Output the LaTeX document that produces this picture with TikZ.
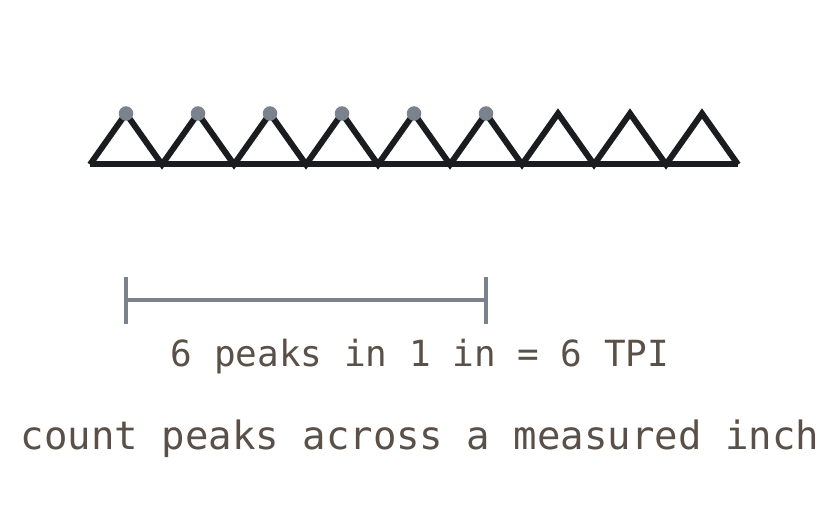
\documentclass[tikz,border=0pt]{standalone}
\usepackage{fontspec}
\setmonofont{DejaVu Sans Mono}
\definecolor{ink}{HTML}{1A1C1F}
\definecolor{peakgray}{HTML}{7A838D}
\definecolor{txt}{HTML}{5A5048}
\tikzset{
  thread/.style={draw=ink, line width=6pt, line join=miter},
  peakdot/.style={circle, fill=peakgray, minimum size=14.5pt, inner sep=0pt},
  ruler/.style={draw=peakgray, line width=4.5pt},
  label/.style={text=txt, font=\ttfamily, inner sep=0pt, anchor=base},
}
\begin{document}
\begin{tikzpicture}[x=1pt,y=-1pt]
\useasboundingbox (0,0) rectangle (840,510);
% baseline
\coordinate (b0) at (90,164.5);
\coordinate (b9) at (738,164.5);
\draw[thread] (b0) -- (b9);
% zigzag profile
\foreach \i in {0,...,8} {
  \coordinate (p\i) at ({126+72*\i},113.5);
  \coordinate (v\i) at ({90+72*\i},164.5);
}
\draw[thread] (v0) -- (p0) -- ++(36,51) -- (p1) -- ++(36,51) -- (p2) -- ++(36,51) -- (p3) -- ++(36,51) -- (p4) -- ++(36,51) -- (p5) -- ++(36,51) -- (p6) -- ++(36,51) -- (p7) -- ++(36,51) -- (p8) -- (b9);
% peak dots
\foreach \i in {0,...,5} {
  \node[peakdot] (d\i) at (p\i) {};
}
% ruler
\coordinate (rl) at (126,300);
\coordinate (rr) at (486,300);
\draw[ruler] (rl) -- (rr);
\draw[ruler] ([yshift=-24pt]rl) -- ([yshift=23pt]rl);
\draw[ruler] ([yshift=-24pt]rr) -- ([yshift=23pt]rr);
% labels
\node[label, font=\ttfamily\fontsize{36}{40}\selectfont] (t1) at (420,366) {6 peaks in 1 in = 6 TPI};
\node[label, font=\ttfamily\fontsize{39}{43}\selectfont] (t2) at (420,449) {count peaks across a measured inch};
\end{tikzpicture}
\end{document}
